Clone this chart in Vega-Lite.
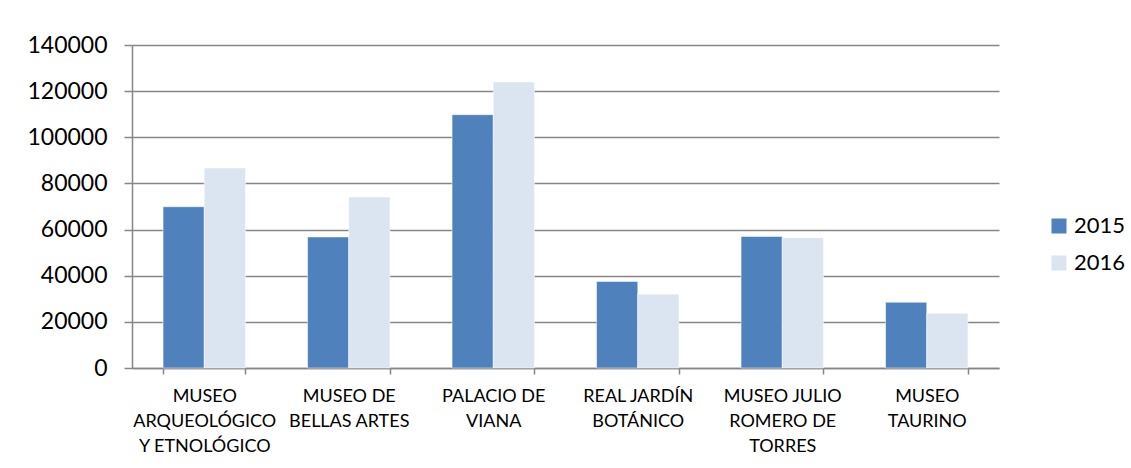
{
  "$schema": "https://vega.github.io/schema/vega-lite/v6.json",
  "autosize": {"type": "none"},
  "padding": {"left": 132, "top": 45, "right": 132, "bottom": 100},
  "width": 867,
  "height": 323,
  "background": "white",
  "data": {
    "values": [
      {"museo": "MUSEO|ARQUEOLÓGICO|Y ETNOLÓGICO", "year": "2015", "visitas": 69900},
      {"museo": "MUSEO|ARQUEOLÓGICO|Y ETNOLÓGICO", "year": "2016", "visitas": 86700},
      {"museo": "MUSEO DE|BELLAS ARTES", "year": "2015", "visitas": 56800},
      {"museo": "MUSEO DE|BELLAS ARTES", "year": "2016", "visitas": 74100},
      {"museo": "PALACIO DE|VIANA", "year": "2015", "visitas": 109800},
      {"museo": "PALACIO DE|VIANA", "year": "2016", "visitas": 124000},
      {"museo": "REAL JARDÍN|BOTÁNICO", "year": "2015", "visitas": 37500},
      {"museo": "REAL JARDÍN|BOTÁNICO", "year": "2016", "visitas": 32000},
      {"museo": "MUSEO JULIO|ROMERO DE|TORRES", "year": "2015", "visitas": 57000},
      {"museo": "MUSEO JULIO|ROMERO DE|TORRES", "year": "2016", "visitas": 56500},
      {"museo": "MUSEO|TAURINO", "year": "2015", "visitas": 28500},
      {"museo": "MUSEO|TAURINO", "year": "2016", "visitas": 23700}
    ]
  },
  "mark": {"type": "bar", "stroke": "white", "strokeWidth": 0.5},
  "encoding": {
    "x": {
      "field": "museo",
      "type": "nominal",
      "sort": null,
      "scale": {"paddingInner": 0.43, "paddingOuter": 0.215},
      "axis": {
        "title": null,
        "labelAngle": 0,
        "labelExpr": "split(datum.label, '|')",
        "labelFont": "Lato",
        "labelFontSize": 18,
        "labelColor": "#000000",
        "labelLineHeight": 25,
        "labelPadding": 13,
        "labelBaseline": "top",
        "tickBand": "extent",
        "tickSize": 6,
        "tickColor": "#868686",
        "tickWidth": 1.5,
        "domainColor": "#868686",
        "domainWidth": 1.5,
        "grid": false
      }
    },
    "xOffset": {"field": "year", "type": "nominal"},
    "y": {
      "field": "visitas",
      "type": "quantitative",
      "scale": {"domain": [0, 140000], "nice": false},
      "axis": {
        "title": null,
        "values": [0, 20000, 40000, 60000, 80000, 100000, 120000, 140000],
        "format": "d",
        "labelFont": "Lato",
        "labelFontSize": 23,
        "labelColor": "#000000",
        "labelPadding": 17,
        "tickSize": 8,
        "tickColor": "#868686",
        "tickWidth": 1.5,
        "domainColor": "#868686",
        "domainWidth": 1.5,
        "gridColor": "#868686",
        "gridWidth": 1.5
      }
    },
    "color": {
      "field": "year",
      "type": "nominal",
      "scale": {"domain": ["2015", "2016"], "range": ["#4F81BD", "#DBE5F1"]},
      "legend": {
        "title": null,
        "orient": "none",
        "legendX": 916,
        "legendY": 170,
        "symbolType": "square",
        "symbolSize": 225,
        "symbolStrokeWidth": 0,
        "labelFont": "Lato",
        "labelFontSize": 22,
        "labelColor": "#000000",
        "labelOffset": 4,
        "rowPadding": 15
      }
    }
  },
  "config": {"view": {"stroke": null}}
}
